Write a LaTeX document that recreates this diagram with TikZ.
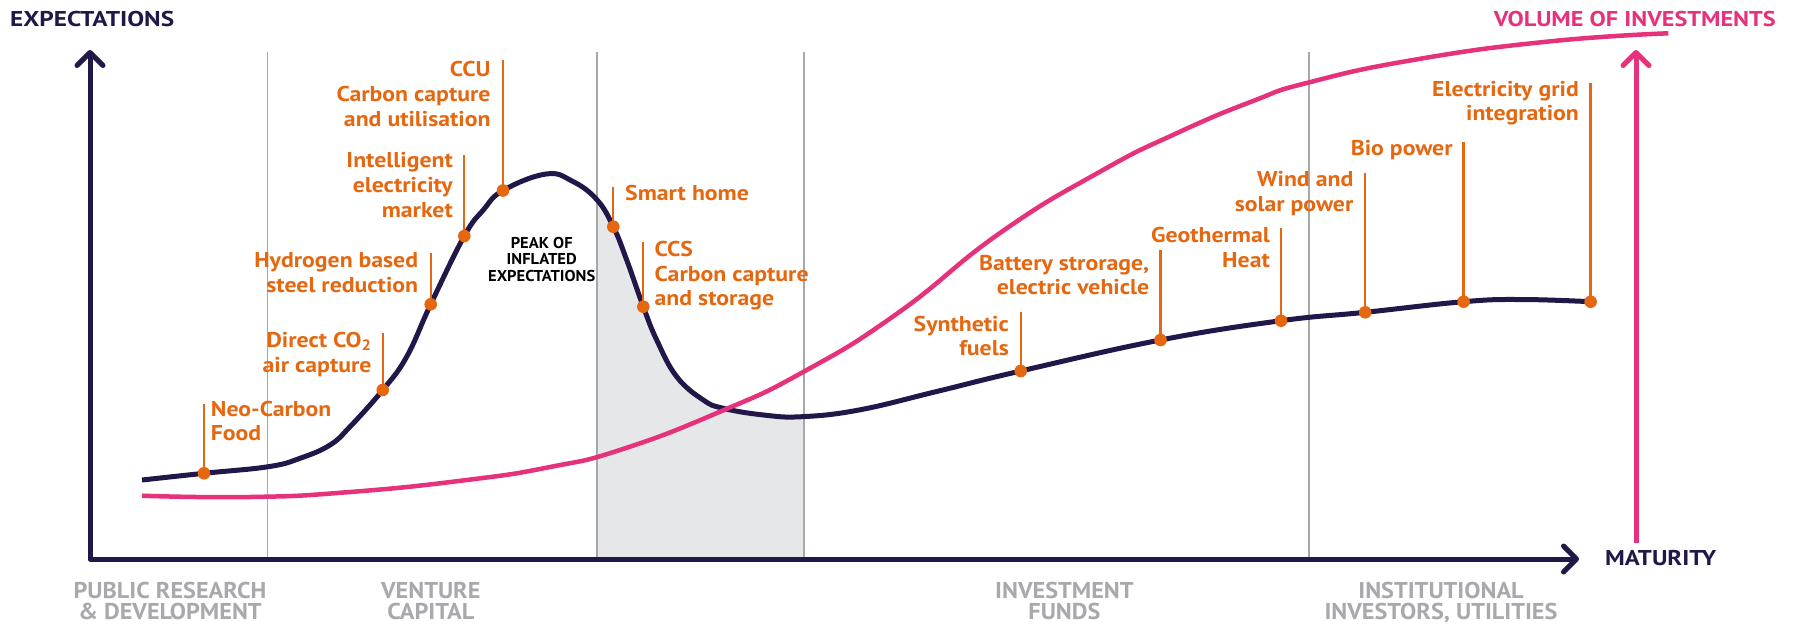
\documentclass[tikz,border=0pt]{standalone}
\usepackage{graphicx}
\usepackage{fontspec}
\setmainfont{PT Sans}
\newfontfamily\basefont{PT Sans}
\usetikzlibrary{arrows.meta}

% horizontal stretch needed so that a sample set in PT Sans Bold gets a given width
\newcommand\measurestretch[4]{%
  \setbox0\hbox{\basefont\bfseries\fontsize{#3}{#3}\selectfont #4}%
  \pgfmathsetmacro#1{#2/\the\wd0}}
\measurestretch\labk{1217.7}{21.4}{Carbon captureHydrogen basedNeo-CarbonSmart homeElectricity gridBio powerGeothermalsolar powerBattery strorage,}
\measurestretch\stagek{828.7}{22.9}{PUBLIC RESEARCHVENTUREINVESTMENTINSTITUTIONALINVESTORS, UTILITIES}
\measurestretch\peakk{238.9}{15.7}{PEAK OFINFLATEDEXPECTATIONS}
\edef\makefonts{%
  \noexpand\newfontfamily\noexpand\labfont[FakeStretch=\labk]{PT Sans}%
  \noexpand\newfontfamily\noexpand\stagefont[FakeStretch=\stagek]{PT Sans}%
  \noexpand\newfontfamily\noexpand\peakfont[FakeStretch=\peakk]{PT Sans}}
\makefonts

% set a single line at an exact width
\newcommand\fitwidth[2]{\setbox0\hbox{#2}\pgfmathsetmacro\fitk{#1/\the\wd0}\scalebox{\fitk}[1]{\box0}}

\definecolor{navy}{HTML}{211849}
\definecolor{hot}{HTML}{E6317B}
\definecolor{amber}{HTML}{E5670F}
\definecolor{rulegray}{HTML}{A8A8A8}
\definecolor{shadegray}{HTML}{E6E7E8}
\definecolor{stagegray}{HTML}{A7A9AC}

% hype curve (expectations) through all item points
\newcommand\hypeplot{plot[smooth,tension=0.7] coordinates {
  (142,480) (204,473.3) (268.3,466.7) (300,458.3) (330,445) (350,426.7)
  (382.7,390) (406.7,356.7) (430.7,304.3) (464.3,236) (483.3,210)
  (503,190.5) (546,174) (572,181) (596.7,199.5) (613.3,226.7)
  (626.7,260) (643.3,306.7) (656.7,340) (676.7,376.7) (703.3,400)
  (723.3,408.3) (763.6,415) (801.8,416.7) (859,410) (935.8,391.7)
  (1020.7,371) (1160.5,340) (1281,320.7) (1365.2,312.3) (1463.6,301.7)
  (1521,299.5) (1590.6,301.7)}}

\begin{document}
\begin{tikzpicture}[x=1pt,y=-1pt,
  barb/.tip={Straight Barb[length=13pt,width=26pt,round]},
  axis/.style={navy,line width=5pt,line join=round},
  rule/.style={rulegray,line width=1.8pt},
  hype/.style={navy,line width=5pt},
  money/.style={hot,line width=4.5pt},
  leader/.style={amber,line width=2.3pt},
  dot/.style={amber},
  lab/.style={amber,inner sep=0pt,font=\labfont\bfseries\fontsize{21.4}{24.8}\selectfont},
  title/.style={inner sep=0pt,font=\basefont\bfseries\fontsize{21.4}{25}\selectfont},
  peak/.style={inner sep=0pt,align=center,text=black,
    font=\peakfont\bfseries\fontsize{15.7}{16.6}\selectfont},
  stage/.style={stagegray,inner sep=0pt,align=center,
    font=\stagefont\bfseries\fontsize{22.9}{21}\selectfont}]

\useasboundingbox (0,0) rectangle (1795,624);
\fill[white] (0,0) rectangle (1795,624);

% shaded trough between the second and third stage lines
\begin{scope}
  \clip (597,0) rectangle (803.7,559);
  \fill[shadegray] \hypeplot -- (1590.6,559) -- (142,559) -- cycle;
\end{scope}

% stage separators
\foreach \gx [count=\i] in {267.5,597,803.7,1308.6} {
  \coordinate (g\i top) at (\gx,52);
  \coordinate (g\i bot) at (\gx,559);
  \draw[rule] (g\i top) -- (g\i bot);
}

% axes
\coordinate (origin) at (90,559);
\coordinate (ytip) at (90,50);
\coordinate (xtip) at (1579,559);
\draw[axis,barb-barb] (ytip) -- (origin) -- (xtip);

\coordinate (vbase) at (1636,543);
\coordinate (vtip) at (1636,50);
\draw[hot,line width=5pt,-barb] (vbase) -- (vtip);

% expectations curve
\draw[hype] \hypeplot;

% volume of investments curve
\draw[money] plot[smooth,tension=0.85] coordinates {
  (142,495.7) (250,497) (350,492) (466.7,480) (550,467) (622,449.3)
  (720,411.7) (803.7,371.7) (897.5,313.3) (1000,233) (1100,171.7)
  (1176.5,133.3) (1253,101) (1308.6,82.5) (1413,60) (1546.7,41.7)
  (1668.3,33.3)};

% items on the curve: leader from label to point
\foreach \n/\x/\top/\y in {
  neo/204/404/473.3, dac/382.7/333/390, hyd/430.7/253/304.3,
  iem/464.3/155/236, ccu/503/60/190.5, smart/613.3/186.7/226.7,
  ccs/643.3/241.7/306.7, syn/1020.7/311.7/371, bat/1160.5/250/340,
  geo/1281/228.3/320.7, wind/1365.2/173.3/312.3, bio/1463.6/141.7/301.7,
  grid/1590.6/83.3/301.7} {
  \coordinate (\n top) at (\x,\top);
  \coordinate (\n pt) at (\x,\y);
  \draw[leader] (\n top) -- (\n pt);
  \fill[dot] (\n pt) circle (6.3pt);
}

% item labels (anchored at the baseline of their last line)
\node[lab,align=left,anchor=base west] (neolab) at (210.7,440.8) {Neo-Carbon\\Food};
\node[lab,align=right,anchor=base east] (daclab) at (371.7,372) {Direct CO\textsubscript{2}\\air capture};
\node[lab,align=right,anchor=base east] (hydlab) at (418.3,292.5) {Hydrogen based\\steel reduction};
\node[lab,align=right,anchor=base east] (iemlab) at (453,217.5) {Intelligent\\electricity\\market};
\node[lab,align=right,anchor=base east] (cculab) at (490.7,126) {CCU\\Carbon capture\\and utilisation};
\node[lab,anchor=base west] (smartlab) at (625,200.2) {Smart home};
\node[lab,align=left,anchor=base west] (ccslab) at (654.5,305.8) {CCS\\Carbon capture\\and storage};
\node[lab,align=right,anchor=base east] (synlab) at (1009,355.8) {Synthetic\\fuels};
\node[lab,align=right,anchor=base east] (batlab) at (1149.4,294.8) {Battery strorage,\\electric vehicle};
\node[lab,align=right,anchor=base east] (geolab) at (1270,267.5) {Geothermal\\Heat};
\node[lab,align=right,anchor=base east] (windlab) at (1353.5,211.5) {Wind and\\solar power};
\node[lab,anchor=base east] (biolab) at (1452.8,155.2) {Bio power};
\node[lab,align=right,anchor=base east] (gridlab) at (1579,120.8) {Electricity grid\\integration};

\node[peak,anchor=base] (peaklab) at (541.7,281.5) {PEAK OF\\INFLATED\\EXPECTATIONS};

% axis titles
\node[title,text=navy,anchor=base west] (ylab) at (10,26.8) {\fitwidth{164}{EXPECTATIONS}};
\node[title,text=hot,anchor=base east] (vlab) at (1776,26.8) {\fitwidth{282}{VOLUME OF INVESTMENTS}};
\node[title,text=navy,anchor=base west] (xlab) at (1605,565.8) {\fitwidth{111}{MATURITY}};

% funding stages
\node[stage,anchor=base] (st1) at (170,619.5) {PUBLIC RESEARCH\\\& DEVELOPMENT};
\node[stage,anchor=base] (st2) at (430.8,619.5) {VENTURE\\CAPITAL};
\node[stage,anchor=base] (st3) at (1064.4,619.5) {INVESTMENT\\FUNDS};
\node[stage,anchor=base] (st4) at (1441,619.5) {INSTITUTIONAL\\INVESTORS, UTILITIES};
\end{tikzpicture}
\end{document}
